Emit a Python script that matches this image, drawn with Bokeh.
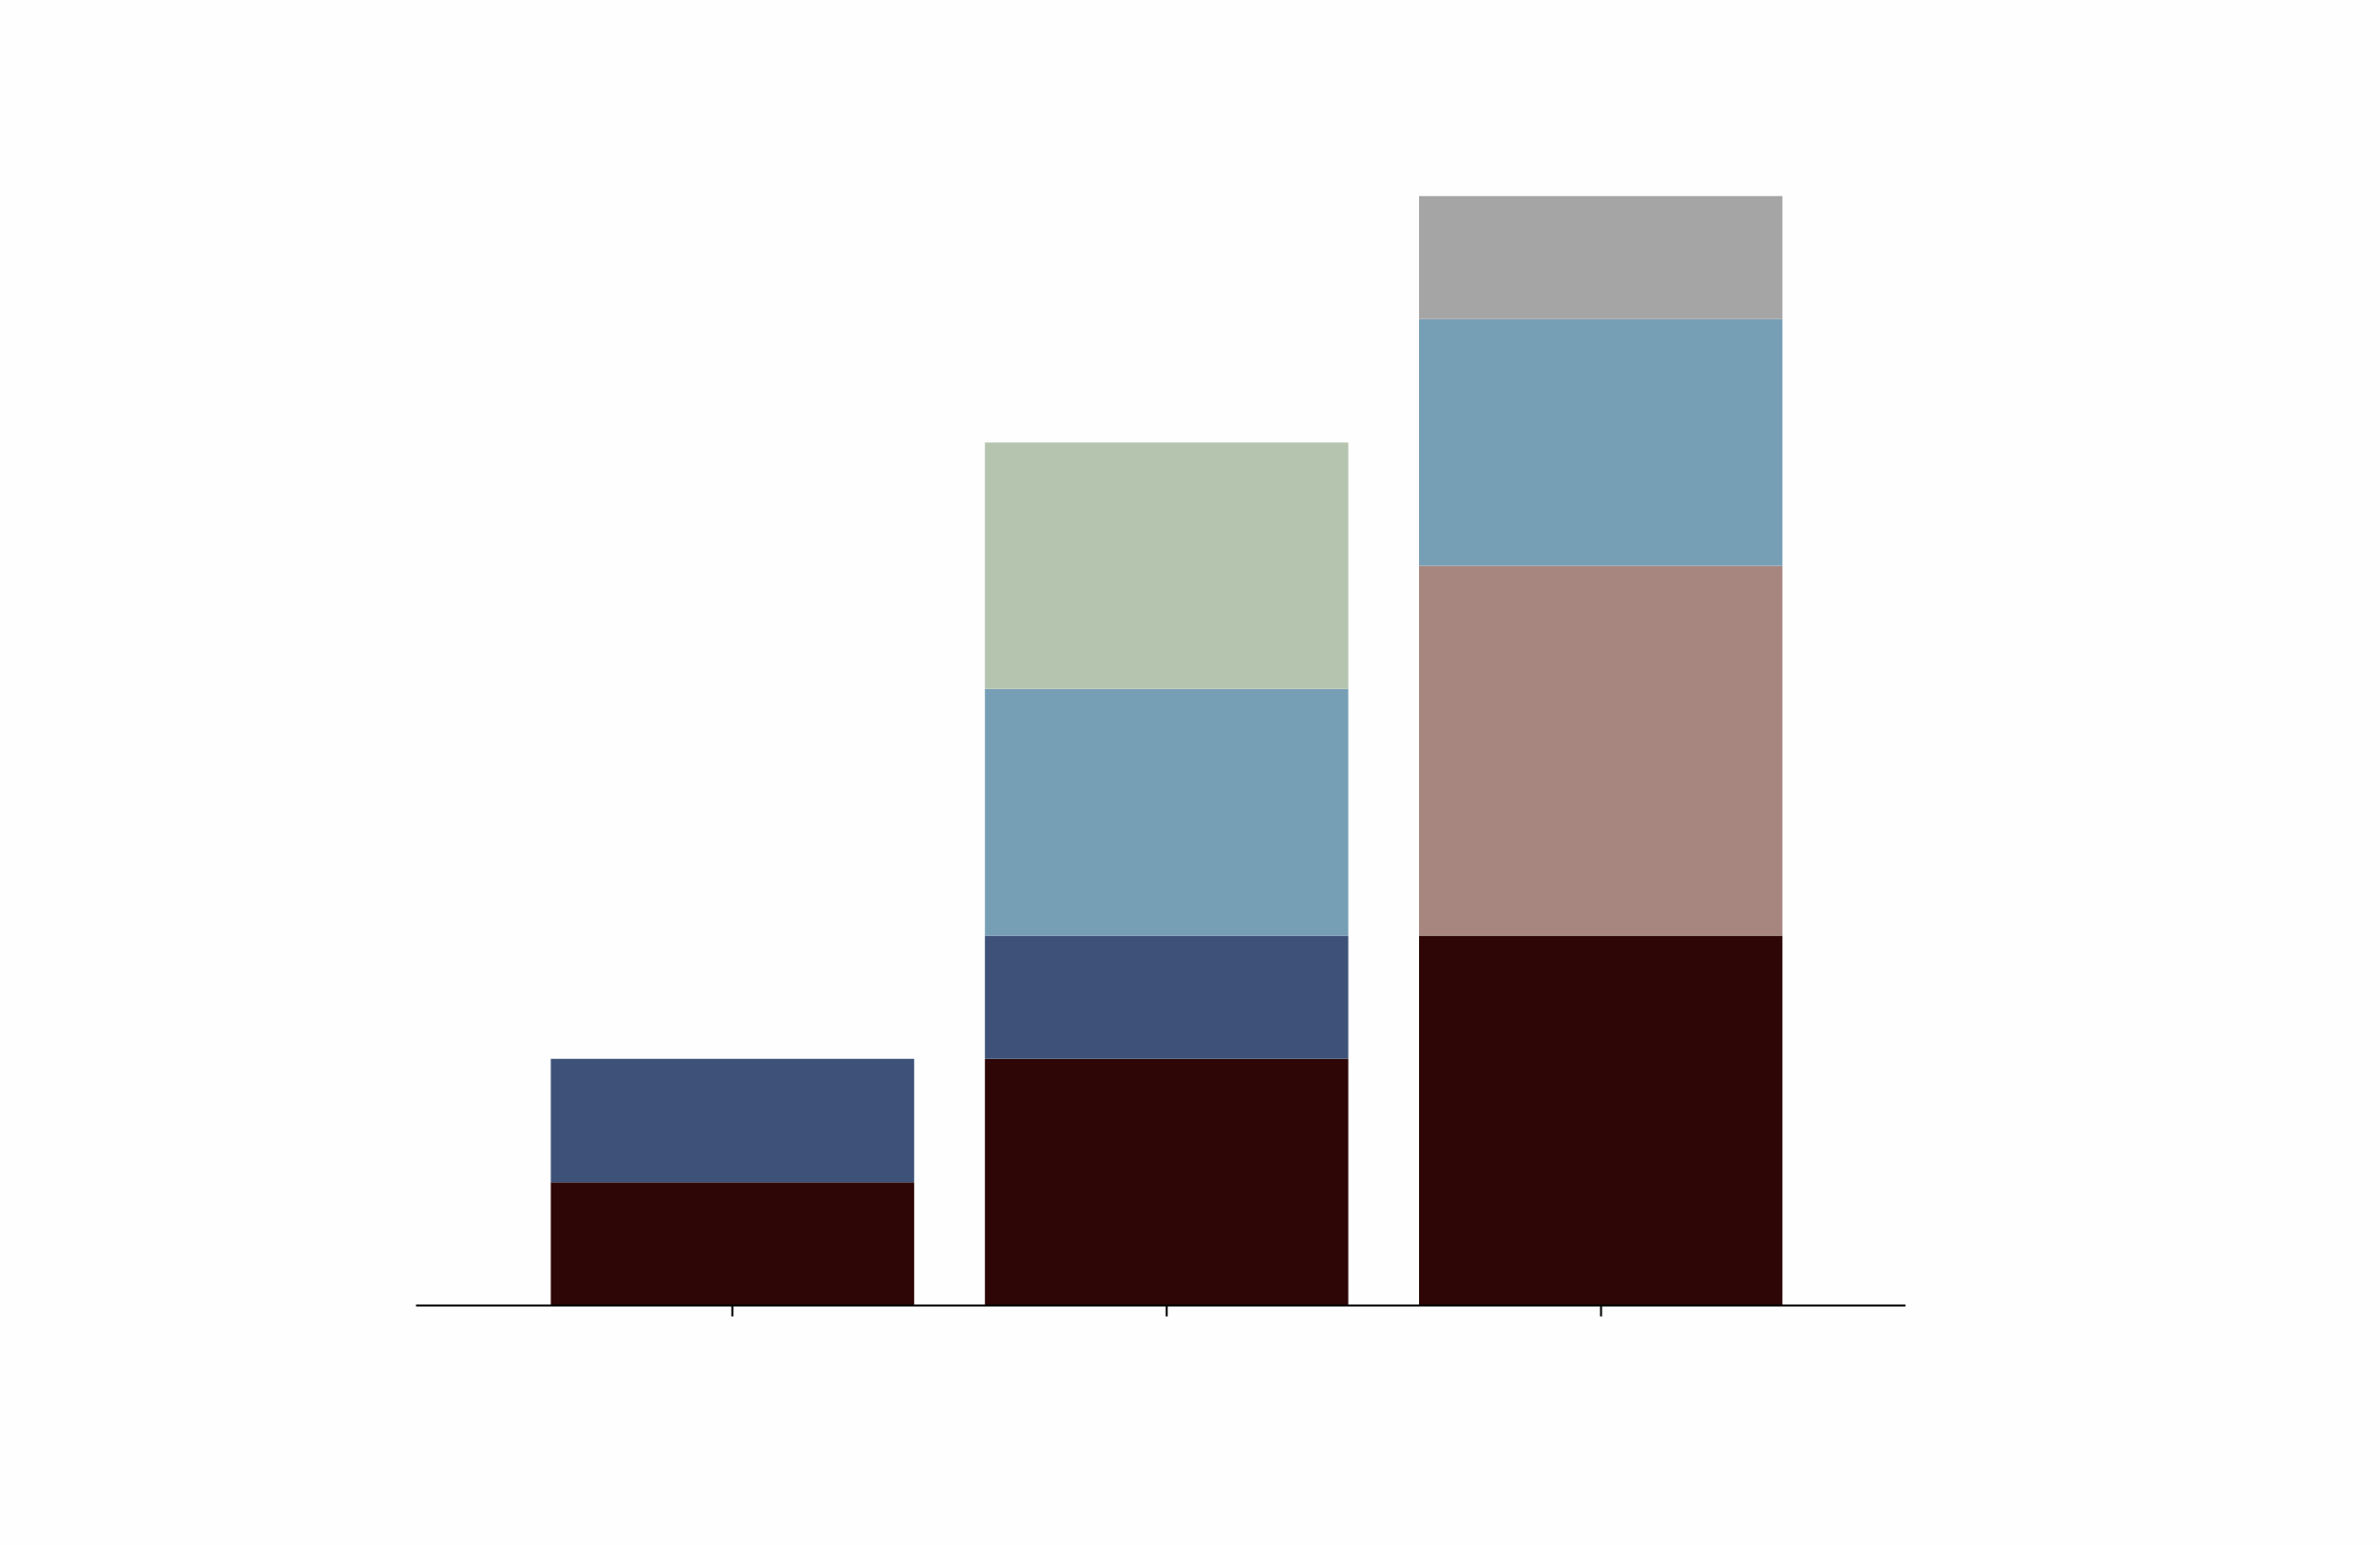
from bokeh.plotting import figure
from bokeh.models import ColumnDataSource, FixedTicker, Range1d
from bokeh.embed import file_html
from bokeh.resources import INLINE

# Data
positions = [0, 1, 2]
series_names = ["s1", "s2", "s3", "s4", "s5", "s6"]
s1 = [1, 2, 3]
s2 = [1, 1, 0]
s3 = [0, 0, 3]
s4 = [0, 2, 2]
s5 = [0, 2, 0]
s6 = [0, 0, 1]
colors = ["#2e0606", "#3e5279", "#a6867f", "#769fb6", "#b5c4ae", "#a5a5a5"]

source = ColumnDataSource(dict(x=positions, s1=s1, s2=s2, s3=s3, s4=s4, s5=s5, s6=s6))

p = figure(width=2400, height=1558, output_backend="svg", toolbar_location=None,
           x_range=Range1d(-0.729, 2.702), y_range=Range1d(0, 9),
           min_border_left=419, min_border_right=479,
           min_border_top=197, min_border_bottom=242)

p.vbar_stack(series_names, x="x", width=0.837, color=colors, line_color=None,
             source=source)

p.background_fill_color = "#fefefe"
p.border_fill_color = "#fefefe"
p.outline_line_color = None
p.xgrid.visible = False
p.ygrid.visible = False
p.yaxis.visible = False

ax = p.xaxis[0]
ax.ticker = FixedTicker(ticks=positions)
ax.major_label_text_font_size = "0px"
ax.major_label_text_color = None
ax.axis_line_width = 2
ax.axis_line_color = "black"
ax.major_tick_line_width = 2
ax.major_tick_line_color = "black"
ax.major_tick_in = 0
ax.major_tick_out = 11
ax.minor_tick_line_color = None

open("out.html", "w").write(file_html(p, INLINE))
